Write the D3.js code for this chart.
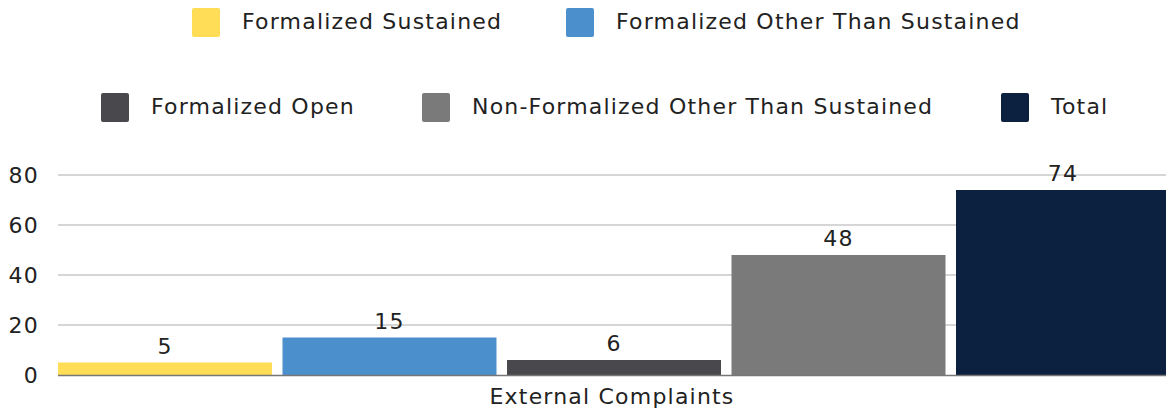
<!DOCTYPE html>
<html><head><meta charset="utf-8">
<script src="https://cdn.jsdelivr.net/npm/d3@7"></script>
<style>body{margin:0;background:#fff}svg{display:block}text{font-family:"DejaVu Sans",sans-serif;fill:#222;letter-spacing:1.2px}</style>
</head><body>
<svg id="c" width="1166" height="409"></svg>
<script>
const category = "External Complaints";
const seriesNames = ["Formalized Sustained","Formalized Other Than Sustained","Formalized Open","Non-Formalized Other Than Sustained","Total"];
const seriesValues = [5, 15, 6, 48, 74];
const seriesColors = ["#FFDD57","#4B90CD","#48484D","#7A7A7A","#0C2040"];
const yTicks = [0, 20, 40, 60, 80];

const svg = d3.select("#c");
const W = 1166;
const x = d3.scaleBand().domain(seriesNames).range([58, 1170]).paddingInner(0.0468).paddingOuter(0);
const y = d3.scaleLinear().domain([0, 80]).range([375, 175]);
const FS = 22;

// gridlines
svg.append("g").selectAll("line").data(yTicks.filter(d=>d>0)).join("line")
  .attr("x1", 58).attr("x2", W).attr("y1", d=>y(d)).attr("y2", d=>y(d))
  .attr("stroke", "#c8c8c8").attr("stroke-width", 1.5);

// y axis labels
const ya = svg.append("g").attr("transform", `translate(58,0)`)
  .call(d3.axisLeft(y).tickValues(yTicks).tickSize(0).tickPadding(19));
ya.select(".domain").remove();
ya.selectAll("text").style("font-family", '"DejaVu Sans",sans-serif').style("font-size", FS+"px").attr("fill", "#222");

// bars
svg.append("g").selectAll("rect").data(seriesNames).join("rect")
  .attr("x", d=>x(d)).attr("width", x.bandwidth())
  .attr("y", (d,i)=>y(seriesValues[i])).attr("height", (d,i)=>y(0)-y(seriesValues[i]))
  .attr("fill", (d,i)=>seriesColors[i]);

// baseline
svg.append("line").attr("x1", 58).attr("x2", W).attr("y1", y(0)+0.5).attr("y2", y(0)+0.5)
  .attr("stroke", "#777").attr("stroke-width", 1.5);

// value labels
svg.append("g").selectAll("text").data(seriesNames).join("text")
  .attr("x", d=>x(d)+x.bandwidth()/2).attr("y", (d,i)=>y(seriesValues[i]) - 9)
  .attr("text-anchor", "middle").style("font-size", FS+"px").text((d,i)=>seriesValues[i]);

// category label
svg.append("text").attr("x", 612).attr("y", 404).attr("text-anchor","middle")
  .style("font-size", FS+"px").text(category);

// legend
const legendPos = [[192,8],[566,8],[101,93],[422,93],[1001,93]];
const lg = svg.append("g").selectAll("g").data(seriesNames).join("g")
  .attr("transform", (d,i)=>`translate(${legendPos[i][0]},${legendPos[i][1]})`);
lg.append("rect").attr("width", 28).attr("height", 29).attr("rx", 2).attr("fill", (d,i)=>seriesColors[i]);
lg.append("text").attr("x", 50).attr("y", 20.5).style("font-size", FS+"px").text(d=>d);
</script>
</body></html>
